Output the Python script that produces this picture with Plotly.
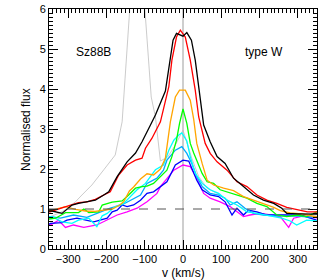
import plotly.graph_objects as go

# ---- data ----
black_v = [-350,-342,-316,-290,-273,-246,-229,-207,-194,-172,-146,-124,-107,-85,-72,-46,-26,-17,0,10,22,32,41,50,54,71,89,110,132,158,184,210,237,258,271,300,325,350]
black_f = [0.95,0.95,0.89,1.1,1.14,1.18,1.22,1.35,1.43,1.81,2.18,2.4,2.68,3.1,3.35,3.95,5.22,5.39,5.32,5.41,5.22,4.72,4.06,3.4,3.1,2.68,2.31,2.14,1.77,1.56,1.35,1.22,1.14,1.02,0.89,0.88,0.87,0.87]

red_v = [-350,-347,-316,-290,-273,-251,-229,-207,-190,-168,-146,-124,-107,-98,-81,-59,-51,-42,-37,-29,-17,-7,6,19,32,41,58,71,89,115,141,167,193,219,245,271,300,325,350]
red_f = [0.93,0.93,1.03,1.12,1.16,1.18,1.24,1.35,1.43,1.85,2.1,2.22,2.27,2.52,2.77,3.18,3.52,3.85,4.06,4.72,5.3,5.47,5.3,4.72,3.97,3.3,2.64,2.39,2.18,1.97,1.68,1.56,1.35,1.22,1.14,1.04,0.98,0.93,0.93]

orange_v = [-350,-330,-307,-281,-255,-230,-211,-185,-165,-155,-140,-129,-111,-94,-77,-59,-46,-33,-20,-9,6,19,28,36,50,63,80,106,132,158,184,210,237,254,280,310,350]
orange_f = [0.95,1.0,1.06,0.99,0.95,0.94,0.96,1.0,1.1,1.18,1.45,1.55,1.75,1.88,1.85,2.0,2.27,3.18,3.8,3.97,3.97,3.72,3.24,2.64,2.14,1.72,1.6,1.52,1.46,1.31,1.22,1.14,1.04,0.96,0.9,0.88,0.8]

green_v = [-350,-333,-307,-273,-259,-246,-220,-211,-185,-159,-142,-124,-107,-94,-77,-59,-42,-29,-17,-9,0,10,19,28,36,50,63,80,97,115,141,167,193,219,245,271,297,323,350]
green_f = [0.75,0.77,0.91,0.91,1.0,0.91,0.93,1.1,1.17,1.2,1.35,1.52,1.56,1.57,1.64,1.81,1.97,2.31,2.72,3.14,3.5,3.14,2.64,2.4,2.2,1.89,1.68,1.64,1.48,1.43,1.35,1.27,1.14,1.06,0.85,0.81,0.85,0.81,0.93]

grey_v = [-350,-325,-307,-281,-264,-238,-207,-177,-159,-155,-120,-83,-72,-59,-40,-20,0,23,41,63,89,120,150,180,210,240,270,300,350]
grey_f = [0.8,0.89,0.98,1.18,1.35,1.6,1.98,2.35,3.18,3.75,8.7,3.8,3.3,2.2,2.3,2.6,2.97,2.27,1.81,1.52,1.39,1.2,1.05,0.95,0.88,0.85,0.85,0.82,0.85]

cyan_v = [-350,-342,-316,-290,-273,-246,-225,-211,-198,-177,-155,-138,-120,-98,-72,-51,-37,-24,-11,-3,10,19,32,50,71,93,115,141,167,193,228,258,280,297,323,350]
cyan_f = [0.8,0.81,0.68,0.64,0.72,0.77,0.56,0.83,0.89,1.06,1.14,1.31,1.48,1.64,1.98,2.1,2.47,2.72,2.85,2.9,2.7,2.31,1.89,1.64,1.48,1.39,1.22,1.1,0.93,0.89,0.83,0.77,0.7,0.6,0.72,0.7]

sky_v = [-350,-346,-320,-286,-251,-216,-190,-160,-129,-111,-94,-68,-51,-42,-20,-3,10,23,36,50,71,93,110,123,141,162,184,210,240,270,300,330,350]
sky_f = [0.81,0.81,0.77,0.85,0.79,0.93,1.02,1.1,1.27,1.35,1.64,1.77,1.97,2.22,2.47,2.56,2.39,2.14,1.81,1.56,1.39,1.35,1.27,1.1,1.18,1.02,0.89,0.85,0.83,0.83,0.82,0.8,0.8]

blue_v = [-350,-346,-316,-303,-277,-233,-198,-185,-172,-159,-146,-129,-111,-94,-77,-59,-42,-20,0,15,23,36,50,71,93,110,128,141,158,171,193,219,245,271,306,349]
blue_f = [0.62,0.64,0.66,0.72,0.77,0.68,0.77,0.93,0.97,1.1,1.06,1.1,1.22,1.39,1.43,1.56,1.68,2.1,2.22,2.2,2.02,1.72,1.48,1.35,1.31,1.18,0.85,1.02,0.85,0.97,0.93,0.85,0.85,0.85,0.85,0.72]

magenta_v = [-350,-346,-325,-307,-286,-259,-225,-198,-172,-146,-120,-94,-68,-59,-42,-24,0,19,36,54,71,97,123,141,158,175,201,228,254,276,289,315,350]
magenta_f = [0.6,0.6,0.72,0.54,0.6,0.54,0.6,0.72,0.85,0.93,1.02,1.18,1.39,1.56,1.77,1.97,2.1,2.06,1.77,1.39,1.27,1.18,1.06,0.93,0.81,0.85,0.89,0.85,0.81,0.54,0.77,0.83,0.78]

x_ticks = [-300, -200, -100, 0, 100, 200, 300]
y_ticks = [0, 1, 2, 3, 4, 5, 6]

series = [
    (grey_v, grey_f, "#BEBEBE", 0.8),
    (magenta_v, magenta_f, "#FF00FF", 1.3),
    (blue_v, blue_f, "#0000FF", 1.3),
    (sky_v, sky_f, "#00AAFF", 1.3),
    (cyan_v, cyan_f, "#00FFFF", 1.3),
    (green_v, green_f, "#00FF00", 1.3),
    (orange_v, orange_f, "#FFA500", 1.3),
    (red_v, red_f, "#FF0000", 1.3),
    (black_v, black_f, "#000000", 1.3),
]

fig = go.Figure()
for v, f, c, w in series:
    fig.add_trace(go.Scatter(x=v, y=f, mode="lines", line=dict(color=c, width=w),
                             showlegend=False, hoverinfo="skip"))

fig.add_shape(type="line", x0=0, x1=0, y0=0, y1=6, xref="x", yref="y",
              line=dict(color="#BEBEBE", width=1.5), layer="below")
fig.add_shape(type="line", x0=-350, x1=350, y0=1, y1=1, xref="x", yref="y",
              line=dict(color="#555555", width=1, dash="dash"), layer="above")

fig.add_annotation(x=-235, y=4.93, text="Sz88B", showarrow=False,
                   font=dict(size=12, color="black"))
fig.add_annotation(x=212, y=4.93, text="type W", showarrow=False,
                   font=dict(size=12, color="black"))

# axis titles placed as annotations so they sit exactly where the reference has them
fig.add_annotation(xref="paper", yref="paper", x=0.5, y=-0.1, yanchor="middle",
                   text="v (km/s)", showarrow=False, font=dict(size=12, color="black"))
fig.add_annotation(xref="paper", yref="paper", x=-0.086, y=0.5, xanchor="center",
                   yanchor="middle", textangle=-90,
                   text="Normalised flux", showarrow=False, font=dict(size=12, color="black"))

axis_common = dict(showline=True, linecolor="black", linewidth=1, mirror="allticks",
                   ticks="inside", tickcolor="black", showgrid=False, zeroline=False,
                   automargin=False, tickfont=dict(size=11, color="black"))

fig.update_xaxes(range=[-350, 350], tickvals=x_ticks, ticklen=9,
                 minor=dict(dtick=10, ticklen=4, ticks="inside", tickcolor="black", showgrid=False),
                 **axis_common)
fig.update_yaxes(range=[0, 6], tickvals=y_ticks, ticklen=9,
                 minor=dict(dtick=0.1, ticklen=4, ticks="inside", tickcolor="black", showgrid=False),
                 **axis_common)

fig.update_layout(width=327, height=280,
                  margin=dict(l=49, r=10, t=9, b=31, autoexpand=False),
                  paper_bgcolor="white", plot_bgcolor="white",
                  font=dict(family="Liberation Sans, Arial, sans-serif", color="black"))

fig.write_html("out.html", config={"displayModeBar": False, "staticPlot": True},
               post_script="document.body.style.margin='0px';document.body.style.overflow='hidden';")
